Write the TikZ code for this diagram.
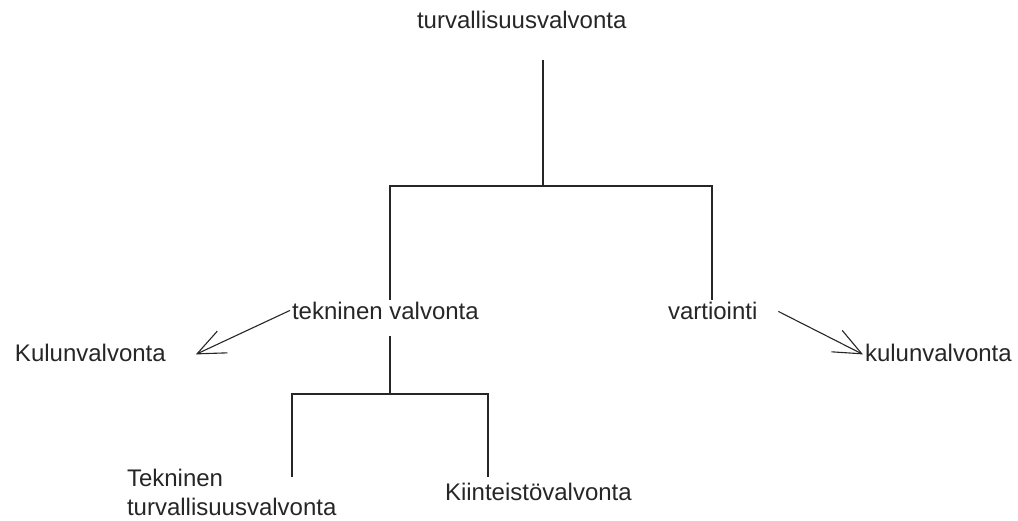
\documentclass[tikz,border=0pt]{standalone}
\usepackage{fontspec}
\setmainfont{Liberation Sans}
\usetikzlibrary{arrows.meta}
\begin{document}
\begin{tikzpicture}[x=1pt,y=-1pt,
  lbl/.style={inner sep=0pt,outer sep=0pt,text=black!85,font=\fontsize{24}{29}\selectfont},
  tree/.style={line width=1.3pt,black!85},
  arr/.style={line width=1.1pt,black!85,-{Straight Barb[length=28pt,width=24pt,line width=1.1pt]}}]
\useasboundingbox (0,0) rectangle (1018,521);
% labels
\node[lbl,anchor=base west] (top)  at (417,29)  {turvallisuusvalvonta};
\node[lbl,anchor=base west] (tek)  at (292,320) {tekninen valvonta};
\node[lbl,anchor=base west] (vart) at (668,320) {vartiointi};
\node[lbl,anchor=base west] (kul1) at (15,362)  {Kulunvalvonta};
\node[lbl,anchor=base west] (kul2) at (865,362) {kulunvalvonta};
\node[lbl,anchor=north west,align=left] (tt) at (127,469) {Tekninen\\turvallisuusvalvonta};
\node[lbl,anchor=base west] (kv)   at (445,500) {Kiinteistövalvonta};
% tree junctions
\coordinate (a0) at (543,60);
\coordinate (a1) at (543,186);
\coordinate (aL) at (390,300);
\coordinate (aR) at (712,300);
\coordinate (b0) at (390,336);
\coordinate (b1) at (390,394);
\coordinate (bL) at (292,477);
\coordinate (bR) at (488,477);
\draw[tree] (a0) -- (a1);
\draw[tree] (aL) |- (a1) -| (aR);
\draw[tree] (b0) -- (b1);
\draw[tree] (bL) |- (b1) -| (bR);
% arrows
\draw[arr] ([xshift=-2pt,yshift=1pt]tek.west) -- ([xshift=30pt,yshift=-1pt]kul1.east);
\draw[arr] ([xshift=21pt]vart.east) -- ([xshift=-2pt,yshift=-1pt]kul2.west);
\end{tikzpicture}
\end{document}
